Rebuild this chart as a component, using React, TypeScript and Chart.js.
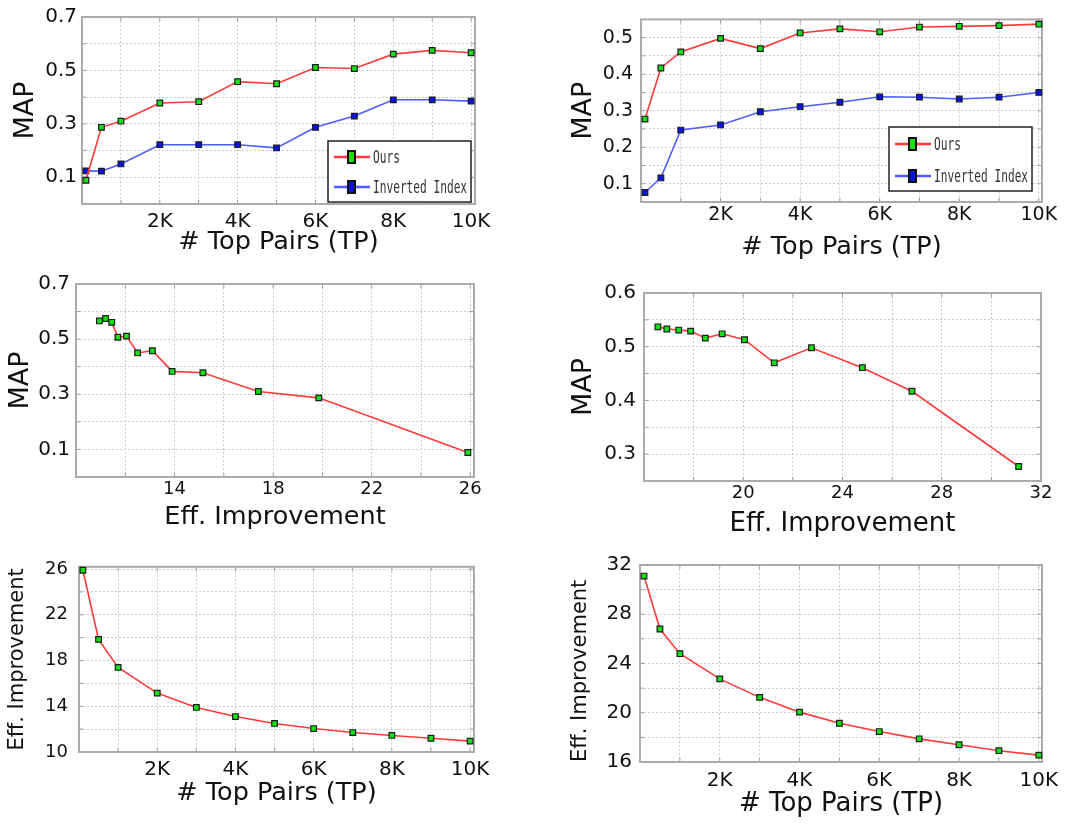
import React, { useEffect, useRef } from "react";
import { Chart, registerables } from "chart.js";

Chart.register(...registerables);

// ---------------- data ----------------
const topPairs = [100, 500, 1000, 2000, 3000, 4000, 5000, 6000, 7000, 8000, 9000, 10000];
const mapOursLeft = [0.089, 0.287, 0.31, 0.378, 0.383, 0.458, 0.45, 0.511, 0.507, 0.561, 0.575, 0.566];
const mapInvertedLeft = [0.124, 0.123, 0.15, 0.222, 0.222, 0.222, 0.21, 0.287, 0.329, 0.39, 0.39, 0.385];
const mapOursRight = [0.277, 0.417, 0.461, 0.498, 0.47, 0.513, 0.524, 0.516, 0.529, 0.531, 0.533, 0.537];
const mapInvertedRight = [0.076, 0.116, 0.247, 0.261, 0.297, 0.311, 0.323, 0.338, 0.337, 0.332, 0.337, 0.35];
const effLeft = [25.9, 19.85, 17.4, 15.15, 13.9, 13.1, 12.5, 12.05, 11.7, 11.45, 11.2, 10.95];
const effRight = [31.1, 26.8, 24.8, 22.75, 21.25, 20.05, 19.15, 18.47, 17.88, 17.4, 16.92, 16.56];
const seriesNames = ["Ours", "Inverted Index"];
const titleTP = "# Top Pairs (TP)";
const titleMAP = "MAP";
const titleEff = "Eff. Improvement";

// ---------------- styling ----------------
const FONT = '"DejaVu Sans", Verdana, sans-serif';
const RED = "#ff3a3a";
const BLUE = "#4d5dff";
const GREEN_FILL = "#12e012";
const BLUE_FILL = "#0a14e8";

const fmtK = (v: number) => v / 1000 + "K";
const fmt1 = (v: number) => v.toFixed(1);
const fmtInt = (v: number) => String(Math.round(v));
const showEvenK = (v: number) => v > 0 && Math.round(v) % 2000 === 0;
const showOddTenth = (v: number) => Math.round(v * 10) % 2 === 1;
const showTenth = (v: number) => Math.round(v * 20) % 2 === 0;

function gridTicks(min: number, max: number, step: number) {
  const out: any[] = [];
  const start = Math.ceil(min / step - 1e-9);
  for (let k = start; k * step <= max + 1e-9; k++) out.push({ value: +(k * step).toFixed(6) });
  return out;
}

const pts = (xs: number[], ys: number[]) => xs.map((x, i) => ({ x, y: ys[i] }));

function series(label: string, xs: number[], ys: number[], color: string, fill: string) {
  return {
    label,
    data: pts(xs, ys),
    borderColor: color,
    backgroundColor: fill,
    pointBackgroundColor: fill,
    pointBorderColor: "#1c1c1c",
    pointBorderWidth: 1.2,
    pointRadius: 4,
    pointStyle: "rect",
    borderWidth: 1.6,
    tension: 0,
    fill: false,
    clip: false,
  };
}

const framePlugin = {
  id: "frame",
  beforeDatasetsDraw(chart: any) {
    const { ctx, chartArea: a, scales } = chart;
    ctx.save();
    ctx.strokeStyle = "#9c9c9c";
    ctx.lineWidth = 1;
    const len = 4;
    const line = (x1: number, y1: number, x2: number, y2: number) => {
      ctx.beginPath();
      ctx.moveTo(x1, y1);
      ctx.lineTo(x2, y2);
      ctx.stroke();
    };
    scales.x.ticks.forEach((t: any) => {
      const p = scales.x.getPixelForValue(t.value);
      if (p <= a.left + 1 || p >= a.right - 1) return;
      line(p, a.bottom, p, a.bottom - len);
      line(p, a.top, p, a.top + len);
    });
    scales.y.ticks.forEach((t: any) => {
      const p = scales.y.getPixelForValue(t.value);
      if (p <= a.top + 1 || p >= a.bottom - 1) return;
      line(a.left, p, a.left + len, p);
      line(a.right, p, a.right - len, p);
    });
    ctx.strokeStyle = "#ababab";
    ctx.lineWidth = 2;
    ctx.strokeRect(a.left, a.top, a.right - a.left, a.bottom - a.top);
    ctx.restore();
  },
};

const legendPlugin = {
  id: "boxLegend",
  afterDraw(chart: any, _args: any, o: any) {
    if (!o || !o.width) return;
    const { ctx, chartArea: a } = chart;
    const x0 = a.right - o.right - o.width;
    const y0 = a.bottom - o.bottom - o.height;
    ctx.save();
    ctx.fillStyle = "#ffffff";
    ctx.fillRect(x0, y0, o.width, o.height);
    ctx.strokeStyle = "#222";
    ctx.lineWidth = 1.5;
    ctx.strokeRect(x0, y0, o.width, o.height);
    chart.data.datasets.forEach((ds: any, i: number) => {
      const cy = y0 + o.rows[i];
      ctx.strokeStyle = ds.borderColor;
      ctx.lineWidth = 2.5;
      ctx.beginPath();
      ctx.moveTo(x0 + 6, cy);
      ctx.lineTo(x0 + 42, cy);
      ctx.stroke();
      ctx.fillStyle = ds.pointBackgroundColor;
      ctx.fillRect(x0 + 20, cy - 6, 7, 12);
      ctx.strokeStyle = "#111";
      ctx.lineWidth = 2;
      ctx.strokeRect(x0 + 20, cy - 6, 7, 12);
      ctx.save();
      ctx.translate(x0 + 45, cy + 1);
      ctx.scale(0.62, 1);
      ctx.font = '18px "DejaVu Sans Mono", "Liberation Mono", monospace';
      ctx.textBaseline = "middle";
      ctx.fillStyle = "#333";
      ctx.fillText(ds.label, 0, 0);
      ctx.restore();
    });
    ctx.restore();
  },
};

function axisOpts(a: any, fixed: number, isX: boolean) {
  return {
    type: "linear",
    min: a.min,
    max: a.max,
    afterBuildTicks: (s: any) => {
      s.ticks = gridTicks(a.min, a.max, a.step);
    },
    afterFit: (s: any) => {
      if (isX) s.height = fixed;
      else s.width = fixed;
    },
    grid: { color: "#cdcdcd", lineWidth: 1, drawTicks: false },
    border: { display: false, dash: [2, 2] },
    ticks: {
      autoSkip: false,
      maxRotation: 0,
      minRotation: 0,
      padding: a.tickPad,
      color: "#111",
      font: { family: FONT, size: a.tickSize },
      callback: (v: any) => (a.show(Number(v)) ? a.fmt(Number(v)) : ""),
    },
    title: {
      display: true,
      text: a.title,
      color: "#111",
      align: a.align || "center",
      font: { family: FONT, size: a.titleSize, lineHeight: 1.2 },
      padding: isX ? { top: 0, bottom: a.titlePad } : { top: a.titlePad, bottom: 0 },
    },
  };
}

const panels: any[] = [
  {
    box: [0, 0, 533, 265],
    area: [82, 13, 475, 204],
    datasets: () => [
      series(seriesNames[0], topPairs, mapOursLeft, RED, GREEN_FILL),
      series(seriesNames[1], topPairs, mapInvertedLeft, BLUE, BLUE_FILL),
    ],
    x: { min: 0, max: 10100, step: 1000, show: showEvenK, fmt: fmtK, title: titleTP, titleSize: 25.5, tickSize: 20, tickPad: 6, titlePad: 7.7 },
    y: { min: 0, max: 0.7, step: 0.1, show: showOddTenth, fmt: fmt1, title: titleMAP, titleSize: 27, tickSize: 20, tickPad: 5, titlePad: 9.8 },
    legend: { right: 4, bottom: 2, width: 143, height: 61, rows: [16, 46] },
  },
  {
    box: [533, 0, 533, 265],
    area: [641, 10, 1042, 202],
    datasets: () => [
      series(seriesNames[0], topPairs, mapOursRight, RED, GREEN_FILL),
      series(seriesNames[1], topPairs, mapInvertedRight, BLUE, BLUE_FILL),
    ],
    x: { min: 0, max: 10080, step: 1000, show: showEvenK, fmt: fmtK, title: titleTP, titleSize: 25.5, tickSize: 19, tickPad: 1.5, titlePad: 2.7 },
    y: { min: 0.05, max: 0.55, step: 0.05, show: showTenth, fmt: fmt1, title: titleMAP, titleSize: 27, tickSize: 19, tickPad: 8, titlePad: 34.8 },
    legend: { right: 10, bottom: 11, width: 143, height: 64, rows: [17, 49] },
  },
  {
    box: [0, 265, 533, 280],
    area: [76, 284, 474, 477],
    datasets: () => [series(seriesNames[0], effLeft, mapOursLeft, RED, GREEN_FILL)],
    x: { min: 10, max: 26.15, step: 2, show: (v: number) => v > 10 && Math.round(v) % 4 === 2, fmt: fmtInt, title: titleEff, titleSize: 25.5, tickSize: 18, tickPad: 2, titlePad: 12.7 },
    y: { min: 0, max: 0.7, step: 0.1, show: showOddTenth, fmt: fmt1, title: titleMAP, titleSize: 27, tickSize: 20, tickPad: 6, titlePad: 4.8 },
  },
  {
    box: [533, 265, 533, 280],
    area: [644, 293, 1041, 481],
    datasets: () => [series(seriesNames[0], effRight, mapOursRight, RED, GREEN_FILL)],
    x: { min: 16, max: 32, step: 2, show: (v: number) => v > 16 && Math.round(v) % 4 === 0, fmt: fmtInt, title: titleEff, titleSize: 26, tickSize: 18, tickPad: 2, titlePad: 4.7 },
    y: { min: 0.25, max: 0.6, step: 0.05, show: showTenth, fmt: fmt1, title: titleMAP, titleSize: 27, tickSize: 20, tickPad: 8, titlePad: 34.8 },
  },
  {
    box: [0, 545, 533, 280],
    area: [79, 562, 474, 752],
    datasets: () => [series(seriesNames[0], topPairs, effLeft, RED, GREEN_FILL)],
    x: { min: 0, max: 10100, step: 1000, show: showEvenK, fmt: fmtK, title: titleTP, titleSize: 25.5, tickSize: 20, tickPad: 5.4, titlePad: 16.7 },
    y: { min: 10, max: 26.2, step: 2, show: (v: number) => Math.round(v - 10) % 4 === 0, fmt: fmtInt, title: titleEff, titleSize: 21, tickSize: 18, tickPad: 11, titlePad: 5.4 },
  },
  {
    box: [533, 545, 533, 280],
    area: [640, 562, 1042, 762],
    datasets: () => [series(seriesNames[0], topPairs, effRight, RED, GREEN_FILL)],
    x: { min: 0, max: 10080, step: 1000, show: showEvenK, fmt: fmtK, title: titleTP, titleSize: 26, tickSize: 20, tickPad: 6.4, titlePad: 4.7 },
    y: { min: 16, max: 32, step: 2, show: (v: number) => Math.round(v) % 4 === 0, fmt: fmtInt, title: titleEff, titleSize: 21, tickSize: 20, tickPad: 8, titlePad: 35.4, align: "start" },
  },
];

function Panel({ cfg }: { cfg: any }) {
  const ref = useRef<HTMLCanvasElement>(null);
  const [cx, cy, w, h] = cfg.box;
  useEffect(() => {
    const [L, T, R, B] = cfg.area;
    const chart = new Chart(ref.current as HTMLCanvasElement, {
      type: "line",
      data: { datasets: cfg.datasets() },
      options: {
        animation: false,
        responsive: false,
        maintainAspectRatio: false,
        devicePixelRatio: 1,
        layout: { padding: { left: 0, top: T - cy, right: cx + w - R, bottom: 0 } },
        plugins: {
          legend: { display: false },
          tooltip: { enabled: false },
          boxLegend: cfg.legend || {},
        } as any,
        scales: {
          x: axisOpts(cfg.x, cy + h - B, true) as any,
          y: axisOpts(cfg.y, L - cx, false) as any,
        },
      },
      plugins: cfg.legend ? [framePlugin, legendPlugin] : [framePlugin],
    } as any);
    return () => chart.destroy();
  }, []);
  return (
    <canvas
      ref={ref}
      width={w}
      height={h}
      style={{ position: "absolute", left: cx, top: cy, width: w, height: h }}
    />
  );
}

export default function App() {
  return (
    <div style={{ position: "absolute", left: 0, top: 0, width: 1066, height: 825, background: "#fff" }}>
      {panels.map((p, i) => (
        <Panel key={i} cfg={p} />
      ))}
    </div>
  );
}
